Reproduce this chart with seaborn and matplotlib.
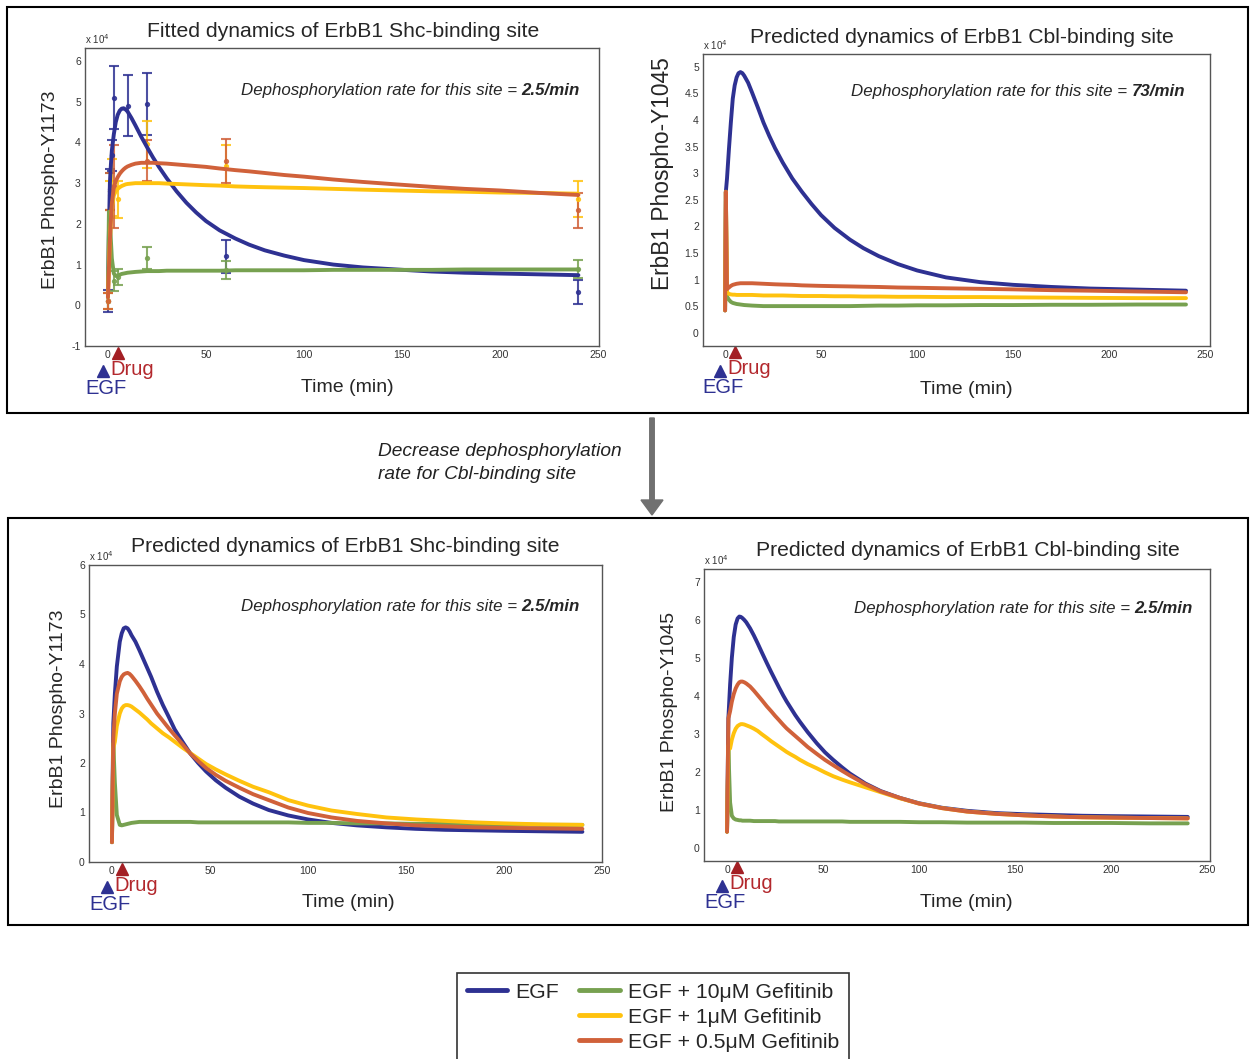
import numpy as np
import pandas as pd
import matplotlib
matplotlib.use("Agg")
import matplotlib.pyplot as plt
import seaborn as sns
from matplotlib.lines import Line2D
from matplotlib.patches import Rectangle, FancyArrow
from matplotlib import transforms
from matplotlib.ticker import FormatStrFormatter

conds = ["EGF", "EGF + 10μM Gefitinib", "EGF + 1μM Gefitinib", "EGF + 0.5μM Gefitinib"]
line_colors = ["#2e3192", "#77a150", "#ffc20e", "#d0613a"]

# values are in units of 10^4
# top left: fitted dynamics, Shc-binding site
shc_fit_t = [0, 0.5, 1, 1.5, 2, 3, 4, 5, 6, 7, 8, 9, 10, 12, 14, 17, 20, 23, 26, 30, 35, 40, 45, 50, 57,
             65, 72, 80, 90, 100, 115, 130, 147, 165, 182, 200, 220, 240]
shc_fit_egf = [0.2, 1.8, 3.0, 3.45, 3.8, 4.2, 4.5, 4.68, 4.78, 4.83, 4.84, 4.81, 4.76, 4.6, 4.42, 4.14, 3.88, 3.63,
               3.4, 3.12, 2.8, 2.52, 2.28, 2.07, 1.84, 1.64, 1.49, 1.35, 1.22, 1.11, 1.0, 0.93, 0.88, 0.83,
               0.8, 0.78, 0.76, 0.74]
shc_fit_g10 = [0.2, 2.3, 2.1, 1.6, 1.15, 0.78, 0.72, 0.73, 0.75, 0.77, 0.78, 0.79, 0.8, 0.81, 0.82, 0.83, 0.84,
               0.84, 0.84, 0.85, 0.85, 0.85, 0.85, 0.85, 0.85, 0.86, 0.86, 0.86, 0.86, 0.86, 0.87, 0.87, 0.87,
               0.87, 0.88, 0.88, 0.88, 0.88]
shc_fit_g1 = [0.2, 0.9, 1.6, 2.05, 2.4, 2.7, 2.8, 2.86, 2.9, 2.93, 2.95, 2.97, 2.98, 2.99, 3.0, 3.0, 3.0, 3.0,
              3.0, 2.99, 2.98, 2.97, 2.96, 2.95, 2.94, 2.92, 2.91, 2.9, 2.89, 2.88, 2.86, 2.84, 2.82, 2.8,
              2.79, 2.77, 2.76, 2.74]
shc_fit_g05 = [0.2, 0.9, 1.6, 2.1, 2.5, 2.9, 3.05, 3.15, 3.23, 3.29, 3.34, 3.38, 3.41, 3.45, 3.48, 3.5, 3.5,
               3.5, 3.49, 3.48, 3.46, 3.44, 3.42, 3.4, 3.36, 3.32, 3.29, 3.25, 3.2, 3.16, 3.09, 3.03, 2.97,
               2.91, 2.86, 2.82, 2.76, 2.71]

# measured points with error bars (top left)
obs_egf_t = [0, 1, 2, 3, 10, 20, 60, 240]
obs_egf_v = [0.1, 2.85, 3.68, 5.1, 4.9, 4.95, 1.2, 0.32]
obs_egf_e = [0.27, 0.5, 0.38, 0.77, 0.75, 0.76, 0.4, 0.3]
obs_g10_t = [0, 1, 3, 5, 20, 60, 240]
obs_g10_v = [0.1, 2.8, 0.6, 0.7, 1.16, 0.87, 0.9]
obs_g10_e = [0.2, 0.45, 0.25, 0.2, 0.26, 0.22, 0.22]
obs_g1_t = [0, 1, 2, 5, 20, 60, 240]
obs_g1_v = [0.1, 2.7, 2.9, 2.6, 3.95, 3.43, 2.61]
obs_g1_e = [0.2, 0.35, 0.7, 0.45, 0.58, 0.5, 0.45]
obs_g05_t = [0, 1, 3, 20, 60, 240]
obs_g05_v = [0.1, 2.8, 2.92, 3.55, 3.54, 2.33]
obs_g05_e = [0.2, 0.45, 1.02, 0.5, 0.54, 0.42]

# top right: predicted Cbl-binding site (73/min)
cbl_pred_t = [0, 0.4, 1, 2, 3, 4, 5, 6, 7, 8, 9, 10, 12, 14, 17, 20, 23, 26, 30, 35, 40, 45, 50, 57, 65, 72,
              80, 90, 100, 115, 133, 150, 170, 190, 215, 240]
cbl_pred_egf = [0.42, 2.65, 2.9, 3.45, 3.95, 4.4, 4.65, 4.8, 4.88, 4.9, 4.88, 4.83, 4.7, 4.52, 4.24, 3.95, 3.7,
                3.47, 3.2, 2.9, 2.65, 2.42, 2.21, 1.97, 1.75, 1.59, 1.44, 1.29, 1.17, 1.04, 0.95, 0.9, 0.86,
                0.83, 0.81, 0.79]
cbl_pred_g10 = [0.42, 2.65, 0.68, 0.62, 0.58, 0.56, 0.55, 0.54, 0.535, 0.53, 0.525, 0.52, 0.515, 0.51, 0.505,
                0.5, 0.5, 0.5, 0.5, 0.5, 0.5, 0.5, 0.5, 0.5, 0.5, 0.505, 0.51, 0.51, 0.515, 0.515, 0.52, 0.52,
                0.525, 0.525, 0.53, 0.53]
cbl_pred_g1 = [0.42, 2.65, 0.76, 0.73, 0.72, 0.715, 0.715, 0.71, 0.71, 0.71, 0.71, 0.71, 0.71, 0.71, 0.705,
               0.7, 0.7, 0.7, 0.7, 0.695, 0.69, 0.69, 0.69, 0.685, 0.685, 0.68, 0.68, 0.675, 0.675, 0.67,
               0.67, 0.665, 0.66, 0.655, 0.65, 0.65]
cbl_pred_g05 = [0.42, 2.65, 0.82, 0.85, 0.88, 0.9, 0.91, 0.92, 0.925, 0.93, 0.93, 0.93, 0.93, 0.93, 0.925,
                0.92, 0.915, 0.91, 0.905, 0.9, 0.89, 0.885, 0.88, 0.875, 0.87, 0.865, 0.86, 0.85, 0.845,
                0.835, 0.825, 0.815, 0.8, 0.79, 0.775, 0.76]

# bottom left: predicted Shc-binding site
shc_new_t = [0, 0.7, 1.5, 2.5, 4, 5, 6, 7, 8, 9, 10, 12, 14, 16, 18, 20, 23, 26, 29, 32, 36, 40, 44, 48, 53,
             58, 65, 72, 80, 90, 100, 112, 125, 140, 155, 170, 185, 200, 220, 240]
shc_new_egf = [0.4, 2.8, 3.4, 3.95, 4.45, 4.62, 4.72, 4.74, 4.72, 4.66, 4.58, 4.45, 4.28, 4.1, 3.92, 3.74,
               3.44, 3.17, 2.93, 2.68, 2.43, 2.19, 2.0, 1.83, 1.65, 1.5, 1.32, 1.18, 1.05, 0.94, 0.86, 0.79,
               0.74, 0.7, 0.67, 0.65, 0.64, 0.63, 0.62, 0.61]
shc_new_g10 = [0.4, 2.4, 1.6, 0.95, 0.75, 0.74, 0.75, 0.76, 0.77, 0.78, 0.79, 0.8, 0.81, 0.81, 0.81, 0.81,
               0.81, 0.81, 0.81, 0.81, 0.81, 0.81, 0.8, 0.8, 0.8, 0.8, 0.8, 0.8, 0.8, 0.8, 0.79, 0.79, 0.78,
               0.78, 0.77, 0.77, 0.76, 0.76, 0.75, 0.75]
shc_new_g1 = [0.4, 2.3, 2.43, 2.75, 3.0, 3.1, 3.15, 3.17, 3.17, 3.16, 3.14, 3.08, 3.02, 2.95, 2.88, 2.8, 2.7,
              2.6, 2.52, 2.43, 2.31, 2.2, 2.09, 1.98, 1.87, 1.77, 1.64, 1.52, 1.41, 1.25, 1.14, 1.04, 0.97,
              0.9, 0.86, 0.83, 0.8, 0.78, 0.76, 0.75]
shc_new_g05 = [0.4, 2.5, 3.0, 3.4, 3.65, 3.74, 3.79, 3.81, 3.82, 3.8, 3.76, 3.66, 3.55, 3.43, 3.3, 3.18, 3.0,
               2.85, 2.7, 2.56, 2.38, 2.19, 2.04, 1.9, 1.76, 1.64, 1.5, 1.37, 1.25, 1.1, 0.99, 0.9, 0.83,
               0.78, 0.74, 0.72, 0.7, 0.69, 0.68, 0.67]

# bottom right: predicted Cbl-binding site (2.5/min)
cbl_new_t = [0, 0.7, 1.6, 2.5, 3.5, 4.5, 5.5, 6.4, 7.2, 8, 9, 10, 12, 14, 16, 18, 20.7, 23, 25, 27, 29.3, 31, 33,
             35.5, 38, 42, 46.7, 51, 55.3, 60, 64, 72, 80, 90, 100, 112, 125, 140, 155, 170, 185, 200, 220, 240]
cbl_new_egf = [0.43, 3.41, 4.3, 5.0, 5.55, 5.88, 6.04, 6.09, 6.08, 6.05, 6.0, 5.94, 5.78, 5.59, 5.38, 5.16,
               4.87, 4.63, 4.43, 4.23, 4.01, 3.86, 3.7, 3.5, 3.32, 3.05, 2.76, 2.52, 2.32, 2.12, 1.96, 1.7, 1.5,
               1.32, 1.18, 1.06, 0.98, 0.92, 0.89, 0.87, 0.85, 0.84, 0.83, 0.82]
cbl_new_g10 = [0.43, 2.6, 1.2, 0.85, 0.78, 0.75, 0.74, 0.73, 0.73, 0.72, 0.72, 0.72, 0.72, 0.71, 0.71, 0.71,
               0.71, 0.71, 0.71, 0.7, 0.7, 0.7, 0.7, 0.7, 0.7, 0.7, 0.7, 0.7, 0.7, 0.7, 0.69, 0.69, 0.69, 0.69,
               0.68, 0.68, 0.67, 0.67, 0.67, 0.66, 0.66, 0.66, 0.65, 0.65]
cbl_new_g1 = [0.43, 2.7, 2.62, 2.85, 3.02, 3.14, 3.21, 3.24, 3.26, 3.26, 3.25, 3.23, 3.19, 3.14, 3.08, 3.0,
              2.9, 2.81, 2.74, 2.67, 2.59, 2.53, 2.47, 2.4, 2.32, 2.21, 2.1, 1.99, 1.89, 1.8, 1.73, 1.6, 1.47,
              1.31, 1.17, 1.05, 0.96, 0.9, 0.86, 0.83, 0.81, 0.8, 0.79, 0.78]
cbl_new_g05 = [0.43, 3.41, 3.6, 3.85, 4.05, 4.2, 4.3, 4.36, 4.38, 4.38, 4.36, 4.33, 4.25, 4.14, 4.02, 3.9, 3.73,
               3.6, 3.48, 3.37, 3.24, 3.15, 3.06, 2.95, 2.84, 2.66, 2.48, 2.32, 2.18, 2.03, 1.91, 1.68, 1.49,
               1.32, 1.17, 1.05, 0.96, 0.9, 0.86, 0.83, 0.81, 0.8, 0.79, 0.78]

x_ticks = [0, 50, 100, 150, 200, 250]

sns.set_style("white")
plt.rcParams['font.family'] = ['Liberation Sans', 'DejaVu Sans']

W, H = 1250, 1059
fig = plt.figure(figsize=(W / 100, H / 100), dpi=100)
palette = dict(zip(conds, line_colors))


def px_rect(l, t, r, b):
    return [l / W, 1 - b / H, (r - l) / W, (b - t) / H]


def panel(box, t, curves, xlim, ylim, yticks, title, title_xy, ylabel, ylab_xy, ylab_size,
          xlab_xy, rate, rate_xy):
    ax = fig.add_axes(px_rect(*box))
    df = pd.DataFrame({
        "t": np.tile(t, len(conds)),
        "v": np.concatenate(curves),
        "cond": np.repeat(conds, len(t)),
    })
    sns.lineplot(data=df, x="t", y="v", hue="cond", hue_order=conds, palette=palette,
                 lw=2.8, legend=False, ax=ax, estimator=None, sort=False, zorder=3)
    for ln in ax.get_lines():
        ln.set_solid_joinstyle('round')
        ln.set_solid_capstyle('round')
    ax.set_xlim(*xlim)
    ax.set_ylim(*ylim)
    ax.set_xticks(x_ticks)
    ax.set_yticks(yticks)
    ax.yaxis.set_major_formatter(FormatStrFormatter('%g'))
    ax.tick_params(direction='in', length=4, width=0.8, color='#555555',
                   labelsize=7.5, labelcolor='#333333', pad=3)
    for s in ax.spines.values():
        s.set_visible(True)
        s.set_color('#555555')
        s.set_linewidth(1.0)
    ax.set_xlabel("Time (min)", fontsize=14)
    ax.xaxis.set_label_coords(*xlab_xy)
    ax.set_ylabel(ylabel, fontsize=ylab_size)
    ax.yaxis.set_label_coords(*ylab_xy)
    ax.text(title_xy[0], title_xy[1], title, transform=ax.transAxes, ha='center', va='center', fontsize=15.2)
    ax.text(0.0, 1.008, r'x 10$^4$', transform=ax.transAxes, ha='left', va='bottom', fontsize=7, color='#333333')
    val = ax.text(rate_xy[0], rate_xy[1], rate, transform=ax.transAxes, ha='right', va='center',
                  fontsize=12.2, fontstyle='italic', fontweight='bold')
    ax.annotate("Dephosphorylation rate for this site = ", xy=(0, 0.5), xycoords=val,
                ha='right', va='center', fontsize=12.2, fontstyle='italic')
    # stimulus markers
    tr = transforms.blended_transform_factory(ax.transData, ax.transAxes)
    ax.plot([5.0], [-0.022], marker='^', ms=9, color='#a31f24', transform=tr, clip_on=False)
    ax.plot([-2.5], [-0.085], marker='^', ms=9, color='#2e3192', transform=tr, clip_on=False)
    ax.text(1.2, -0.078, "Drug", transform=tr, ha='left', va='center', fontsize=14.5, color='#b3282d')
    ax.text(-1.0, -0.142, "EGF", transform=tr, ha='center', va='center', fontsize=14.5, color='#2e3192')
    return ax


ax1 = panel((85, 48, 599, 346), shc_fit_t, [shc_fit_egf, shc_fit_g10, shc_fit_g1, shc_fit_g05],
            (-11.7, 250.5), (-1, 6.32), [-1, 0, 1, 2, 3, 4, 5, 6],
            "Fitted dynamics of ErbB1 Shc-binding site", (0.502, 1.054),
            "ErbB1 Phospho-Y1173", (-0.051, 0.523), 14, (0.51, -0.11), "2.5/min", (0.963, 0.859))

obs = [(obs_egf_t, obs_egf_v, obs_egf_e), (obs_g10_t, obs_g10_v, obs_g10_e),
       (obs_g1_t, obs_g1_v, obs_g1_e), (obs_g05_t, obs_g05_v, obs_g05_e)]
for (ot, ov, oe), col in zip(obs, line_colors):
    ax1.errorbar(ot, ov, yerr=oe, fmt='o', ms=2.8, color=col, ecolor=col, elinewidth=1.5,
                 capsize=3.8, capthick=1.5, alpha=0.85, zorder=2)

panel((703, 54, 1210, 346), cbl_pred_t, [cbl_pred_egf, cbl_pred_g10, cbl_pred_g1, cbl_pred_g05],
      (-11.5, 252.5), (-0.25, 5.24), [0, 0.5, 1, 1.5, 2, 2.5, 3, 3.5, 4, 4.5, 5],
      "Predicted dynamics of ErbB1 Cbl-binding site", (0.511, 1.055),
      "ErbB1 Phospho-Y1045", (-0.058, 0.59), 16.4, (0.519, -0.12), "73/min", (0.951, 0.873))

panel((89, 565, 602, 862), shc_new_t, [shc_new_egf, shc_new_g10, shc_new_g1, shc_new_g05],
      (-11.7, 250), (0, 6), [0, 1, 2, 3, 4, 5, 6],
      "Predicted dynamics of ErbB1 Shc-binding site", (0.499, 1.061),
      "ErbB1 Phospho-Y1173", (-0.043, 0.515), 14, (0.505, -0.108), "2.5/min", (0.957, 0.859))

panel((704, 569, 1210, 861), cbl_new_t, [cbl_new_egf, cbl_new_g10, cbl_new_g1, cbl_new_g05],
      (-12, 251.6), (-0.34, 7.34), [0, 1, 2, 3, 4, 5, 6, 7],
      "Predicted dynamics of ErbB1 Cbl-binding site", (0.522, 1.062),
      "ErbB1 Phospho-Y1045", (-0.051, 0.51), 14, (0.518, -0.113), "2.5/min", (0.966, 0.866))

# outer frames
for (l, t, r, b) in [(7, 7, 1248, 413), (8, 518, 1248, 925)]:
    fig.patches.append(Rectangle((l / W, 1 - b / H), (r - l) / W, (b - t) / H, transform=fig.transFigure,
                                 fill=False, edgecolor='black', linewidth=1.5))

# arrow between the two frames
fig.patches.append(FancyArrow(6.52, (H - 418) / 100, 0, -(515 - 418) / 100, width=0.045, head_width=0.22,
                              head_length=0.15, length_includes_head=True, color='#707070',
                              transform=fig.dpi_scale_trans))
fig.text(378 / W, 1 - 463 / H, "Decrease dephosphorylation\nrate for Cbl-binding site",
         ha='left', va='center', fontsize=13.8, fontstyle='italic', linespacing=1.45, color='#222222')

# legend
handles = [Line2D([], [], color=line_colors[0], lw=3.5, solid_capstyle='round'),
           Line2D([], [], color='none'), Line2D([], [], color='none'),
           Line2D([], [], color=line_colors[1], lw=3.5, solid_capstyle='round'),
           Line2D([], [], color=line_colors[2], lw=3.5, solid_capstyle='round'),
           Line2D([], [], color=line_colors[3], lw=3.5, solid_capstyle='round')]
labels = [conds[0], '', '', conds[1], conds[2], conds[3]]
leg = fig.legend(handles, labels, ncol=2, loc='upper left', bbox_to_anchor=(457 / W, 1 - 973 / H),
                 frameon=True, fancybox=False, edgecolor='black', fontsize=15.3, handlelength=1.9,
                 handletextpad=0.4, columnspacing=0.95, labelspacing=0.29, borderpad=0.45,
                 borderaxespad=0)
leg.get_frame().set_linewidth(1.2)

fig.savefig("out.png", dpi=100)
